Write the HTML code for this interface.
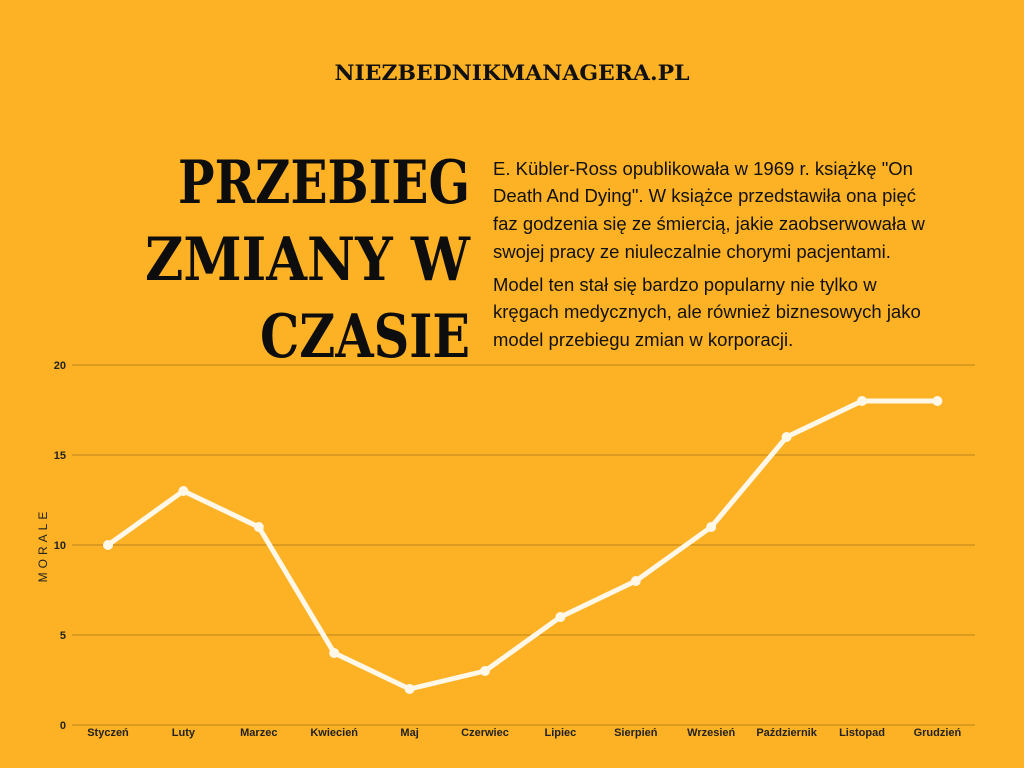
<!DOCTYPE html>
<html><head><meta charset="utf-8"><style>
html,body{margin:0;padding:0;background:#FDB124;}
svg{display:block}
</style></head><body>
<svg width="1024" height="768" viewBox="0 0 1024 768" xmlns="http://www.w3.org/2000/svg">
<rect width="1024" height="768" fill="#FDB124"/>
<text x="512" y="80" text-anchor="middle" font-family="DejaVu Serif, serif" font-weight="bold" font-size="21" textLength="355" lengthAdjust="spacingAndGlyphs" fill="#111">NIEZBEDNIKMANAGERA.PL</text>
<g font-family="DejaVu Serif, serif" font-weight="bold" font-size="60" fill="#0d0d0d" text-anchor="end">
<text x="470" y="203" textLength="292" lengthAdjust="spacingAndGlyphs">PRZEBIEG</text>
<text x="470" y="280" textLength="325" lengthAdjust="spacingAndGlyphs">ZMIANY W</text>
<text x="470" y="357" textLength="210" lengthAdjust="spacingAndGlyphs">CZASIE</text>
</g>
<g font-family="Liberation Sans, sans-serif" font-size="18.5" fill="#111">
<text x="493" y="175">E. Kübler-Ross opublikowała w 1969 r. książkę "On</text>
<text x="493" y="202">Death And Dying". W książce przedstawiła ona pięć</text>
<text x="493" y="230">faz godzenia się ze śmiercią, jakie zaobserwowała w</text>
<text x="493" y="258">swojej pracy ze niuleczalnie chorymi pacjentami.</text>
<text x="493" y="291">Model ten stał się bardzo popularny  nie tylko w</text>
<text x="493" y="318">kręgach medycznych, ale również biznesowych jako</text>
<text x="493" y="346">model przebiegu zmian w korporacji.</text>
</g>
<g id="chart"></g>
</svg>
<script>
const months = ["Styczeń","Luty","Marzec","Kwiecień","Maj","Czerwiec","Lipiec","Sierpień","Wrzesień","Październik","Listopad","Grudzień"];
const morale = [10,13,11,4,2,3,6,8,11,16,18,18];
const yTicks = [0,5,10,15,20];
const NS="http://www.w3.org/2000/svg";
const g=document.getElementById('chart');
const x0=108, dx=75.4, yBase=725, yTop=365, yMax=20;
const xs=i=>x0+i*dx;
const ys=v=>yBase-(v/yMax)*(yBase-yTop);
function mk(t,a){const e=document.createElementNS(NS,t);for(const k in a)e.setAttribute(k,a[k]);g.appendChild(e);return e;}
yTicks.forEach(v=>{
  const l=mk('line',{x1:72,x2:975,y1:ys(v),y2:ys(v),stroke:'#b8851c','stroke-width':1});
  
  
  const t=mk('text',{x:66,y:ys(v)+4,'text-anchor':'end','font-family':'Liberation Sans, sans-serif','font-size':11,'font-weight':'bold',fill:'#222'});
  t.textContent=v;
  
  
});
months.forEach((m,i)=>{
  const t=mk('text',{x:xs(i),y:736,'text-anchor':'middle','font-family':'Liberation Sans, sans-serif','font-size':11,'font-weight':'bold',fill:'#222'});
  t.textContent=m;
  
  
});
const yt=mk('text',{x:0,y:0,transform:'translate(47,545) rotate(-90)','text-anchor':'middle','font-family':'Liberation Sans, sans-serif','font-size':12,'letter-spacing':'4',fill:'#222'});
yt.textContent='MORALE';


const pl=mk('polyline',{points:morale.map((v,i)=>xs(i)+','+ys(v)).join(' '),fill:'none',stroke:'#fff8e8','stroke-width':5,'stroke-linejoin':'round'});


morale.forEach((v,i)=>{
  const c=mk('circle',{cx:xs(i),cy:ys(v),r:5,fill:'#fff8e8'});
  
  
});
</script>
</body></html>
